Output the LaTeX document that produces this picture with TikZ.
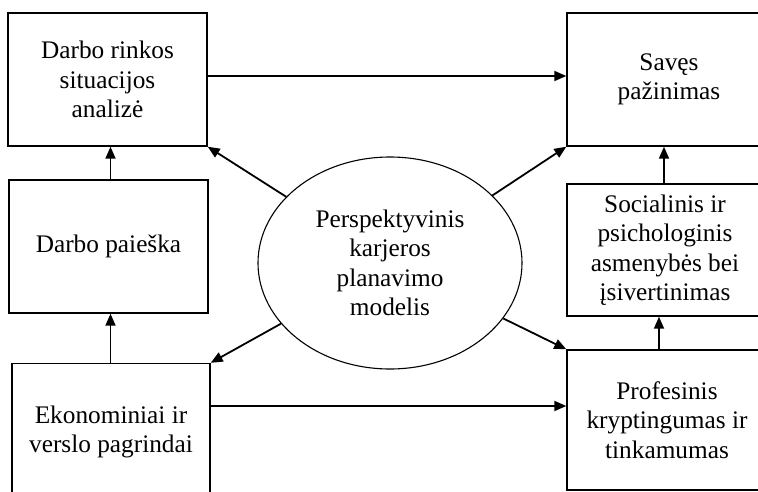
\documentclass[tikz,border=0pt]{standalone}
\usepackage{fontspec}
\setmainfont{Liberation Serif}
\usetikzlibrary{arrows.meta,shapes.geometric}
\begin{document}
\begin{tikzpicture}[x=1pt,y=-1pt,
  txt/.style={align=center, inner sep=0pt, font=\fontsize{25.3}{29.5}\selectfont},
  box/.style={txt, draw, line width=1.4pt},
  arr/.style={line width=1.8pt, -{Triangle[length=12pt,width=10pt]}},
]
\useasboundingbox (0,0) rectangle (758,491);
\clip (0,0) rectangle (758,491);
% left column
\node[box, minimum width=199pt, minimum height=133pt] (A) at (107.5,79.5) {Darbo rinkos\\situacijos\\analizė};
\node[box, minimum width=199pt, minimum height=133pt] (B) at (108.5,246.5) {Darbo paieška};
\node[box, minimum width=198pt, minimum height=137pt] (C) at (111,432) {Ekonominiai ir\\verslo pagrindai};
% right column
\node[box, minimum width=204pt, minimum height=133pt] (D) at (669,79.5) {Savęs\\pažinimas};
\node[box, minimum width=196pt, minimum height=132pt] (E) at (665,250) {Socialinis ir\\psichologinis\\asmenybės bei\\įsivertinimas};
\node[box, minimum width=200pt, minimum height=140pt] (F) at (667,420) {Profesinis\\kryptingumas ir\\tinkamumas};
% centre
\node[txt, draw, line width=1.1pt, ellipse, minimum width=264pt, minimum height=212pt] (M) at (390,263) {Perspektyvinis\\karjeros\\planavimo\\modelis};
% connectors
\draw[arr] ([yshift=3.5pt]A.east) -- ([yshift=3.5pt]A.east -| D.west);
\draw[arr] ([yshift=26pt]C.east) -- ([yshift=26pt]C.east -| F.west);
\draw[arr] ([xshift=2pt]B.north) -- ([xshift=2pt]B.north |- A.south);
\draw[arr] ([xshift=2pt]B.south |- C.north) -- ([xshift=2pt]B.south);
\draw[arr] ([xshift=-1pt]E.north) -- ([xshift=-1pt]E.north |- D.south);
\draw[arr] ([xshift=-6pt]E.south |- F.north) -- ([xshift=-6pt]E.south);
\draw[arr] (M) -- (A.south east);
\draw[arr] (M) -- (D.south west);
\draw[arr] (M) -- (C.north east);
\draw[arr] (M) -- (F.north west);
\end{tikzpicture}
\end{document}
